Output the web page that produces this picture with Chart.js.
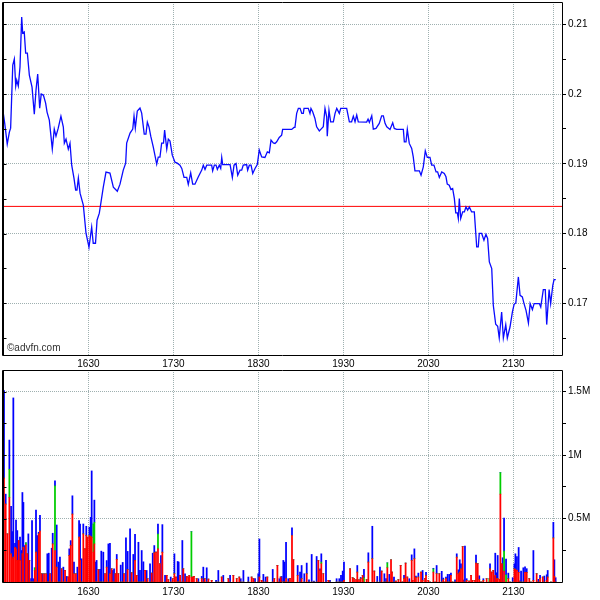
<!DOCTYPE html>
<html><head><meta charset="utf-8">
<script src="https://cdn.jsdelivr.net/npm/chart.js@4.4.0/dist/chart.umd.min.js"></script>
<style>
html,body{margin:0;padding:0;background:#fff;}
#wrap{position:relative;width:600px;height:600px;overflow:hidden;background:#fff;}
#top{position:absolute;left:0;top:0;}
#bot{position:absolute;left:0;top:368px;}
</style></head><body>
<div id="wrap">
<canvas id="top" width="600" height="370"></canvas>
<canvas id="bot" width="600" height="232"></canvas>
</div>
<script>
// ---- data (time = minutes since midnight) ----
const priceTimes = [929.7,930.9,932.7,934.2,935.1,936.6,937.7,938.7,939.4,940.5,941.7,942.9,943.6,944.7,945.7,946.9,948.3,950.2,951.8,953.0,954.2,955.6,956.7,958.2,959.8,960.8,962.4,964.5,965.9,967.1,968.7,970.6,972.3,973.0,974.2,975.8,977.0,978.2,979.8,981.0,981.9,982.9,984.1,986.4,988.3,990.4,992.3,993.4,995.0,996.1,997.7,1000.5,1002.4,1005.2,1007.6,1010.4,1012.3,1014.6,1016.3,1017.0,1019.4,1021.3,1022.2,1023.1,1024.5,1026.4,1027.6,1029.4,1030.6,1031.6,1032.8,1034.0,1035.8,1038.2,1039.3,1040.5,1041.7,1043.0,1043.8,1045.3,1046.4,1047.6,1049.2,1051.1,1052.7,1054.6,1055.9,1057.5,1059.4,1060.5,1062.2,1063.6,1065.2,1067.6,1070.0,1071.1,1072.3,1073.5,1077.0,1077.7,1078.9,1080.1,1081.0,1082.4,1083.4,1084.1,1084.8,1090.0,1091.6,1092.8,1094.2,1095.4,1097.0,1098.2,1099.3,1101.7,1102.4,1103.6,1104.8,1106.0,1107.6,1109.2,1109.9,1110.6,1112.3,1114.6,1116.3,1117.7,1118.9,1120.5,1121.7,1122.9,1124.7,1126.4,1127.1,1133.5,1135.1,1135.8,1137.0,1138.2,1139.4,1140.6,1141.7,1142.2,1145.2,1146.4,1147.1,1148.3,1149.9,1151.1,1153.0,1154.7,1155.8,1157.0,1158.2,1158.6,1159.8,1161.0,1162.9,1164.1,1165.3,1167.1,1168.1,1172.3,1174.2,1175.8,1177.0,1178.2,1179.4,1180.5,1186.4,1187.4,1188.3,1190.0,1191.1,1193.0,1195.3,1197.0,1198.2,1199.4,1200.6,1202.9,1204.8,1205.9,1207.6,1212.3,1213.0,1214.2,1215.1,1216.5,1218.2,1219.3,1220.5,1223.6,1224.8,1226.4,1227.8,1229.2,1231.1,1232.3,1233.9,1235.4,1236.5,1237.7,1239.4,1241.2,1242.4,1243.3,1244.7,1245.9,1247.1,1248.3,1249.3,1250.4,1251.1,1251.8,1252.8,1254.2,1255.4,1256.5,1257.7,1258.9,1260.5,1262.4,1264.1,1265.2,1265.9,1267.6,1269.2,1270.6,1271.8,1273.0,1274.7,1275.8,1277.5,1278.9,1280.0,1281.7,1282.9,1284.6,1285.7,1287.6,1289.3,1290.5,1291.7,1293.5,1294.7,1296.3,1297.5,1298.9,1300.6,1301.8,1303.4,1304.6,1308.3,1309.3,1311.1,1312.5,1313.5,1315.2,1316.3,1317.8,1318.7,1319.9];
const priceValues = [0.19756,0.19584,0.19283,0.19455,0.19512,0.20416,0.20502,0.20115,0.20201,0.20115,0.20387,0.21105,0.20875,0.20890,0.20588,0.20588,0.20273,0.20100,0.19713,0.20057,0.20287,0.19799,0.20000,0.19986,0.19871,0.19742,0.19627,0.19211,0.19498,0.19397,0.19512,0.19684,0.19527,0.19297,0.19354,0.19211,0.19297,0.18981,0.18795,0.18623,0.18623,0.18795,0.18580,0.18408,0.18006,0.17805,0.18092,0.17862,0.17862,0.18192,0.18293,0.18666,0.18881,0.18867,0.18666,0.18608,0.18709,0.18910,0.19010,0.19297,0.19440,0.19498,0.19684,0.19512,0.19756,0.19799,0.19727,0.19426,0.19426,0.19598,0.19527,0.19397,0.19240,0.18996,0.19096,0.19096,0.19297,0.19297,0.19484,0.19211,0.19354,0.19326,0.19125,0.19024,0.19010,0.18981,0.18934,0.18805,0.18805,0.18704,0.18871,0.18709,0.18709,0.18814,0.18910,0.18981,0.18920,0.18981,0.18981,0.18900,0.18981,0.18981,0.18920,0.18981,0.18934,0.19092,0.18990,0.18990,0.18805,0.18981,0.19006,0.18838,0.18910,0.18910,0.18981,0.18990,0.18910,0.18981,0.18981,0.18862,0.18934,0.18990,0.19092,0.19197,0.19100,0.19092,0.19172,0.19158,0.19340,0.19301,0.19293,0.19316,0.19379,0.19412,0.19494,0.19494,0.19522,0.19522,0.19723,0.19795,0.19795,0.19723,0.19723,0.19795,0.19795,0.19723,0.19795,0.19746,0.19651,0.19531,0.19473,0.19508,0.19531,0.19795,0.19674,0.19397,0.19770,0.19603,0.19603,0.19723,0.19795,0.19723,0.19795,0.19795,0.19603,0.19603,0.19684,0.19603,0.19699,0.19603,0.19598,0.19641,0.19594,0.19689,0.19498,0.19508,0.19580,0.19689,0.19689,0.19580,0.19531,0.19494,0.19588,0.19508,0.19494,0.19494,0.19316,0.19316,0.19494,0.19293,0.19221,0.19100,0.18900,0.18900,0.18838,0.18957,0.19187,0.19092,0.19092,0.18981,0.18981,0.18885,0.18885,0.18805,0.18885,0.18862,0.18814,0.18709,0.18694,0.18633,0.18647,0.18504,0.18297,0.18297,0.18217,0.18504,0.18217,0.18311,0.18311,0.18383,0.18336,0.18383,0.18311,0.18311,0.17809,0.17809,0.18002,0.18002,0.17905,0.17990,0.17930,0.17594,0.17499,0.16973,0.16700,0.16672,0.16504,0.16877,0.16504,0.16696,0.16504,0.16661,0.16877,0.16987,0.17006,0.17379,0.17116,0.17092,0.16997,0.16901,0.16719,0.16997,0.16911,0.16997,0.16997,0.16948,0.17198,0.17198,0.16696,0.17198,0.16997,0.17260,0.17341,0.17341];
const prevClose = 0.1839;

const volTimes = [930.4,931.6,932.8,934.2,935.4,936.1,937.0,938.2,938.9,939.8,940.8,941.7,942.9,943.4,944.1,945.2,945.9,946.9,947.6,948.3,949.5,950.2,951.1,952.1,953.0,954.0,954.9,955.8,957.0,957.7,958.7,960.1,961.0,962.0,962.9,964.1,964.8,966.4,967.6,968.8,969.9,971.1,972.3,973.5,974.7,975.8,976.5,977.5,978.7,979.8,981.2,982.2,983.4,984.1,985.2,986.4,987.6,988.5,989.5,990.7,991.6,992.3,993.5,994.2,995.1,995.8,997.0,998.2,999.1,1000.5,1001.7,1002.9,1004.1,1005.2,1006.4,1007.1,1008.1,1009.0,1010.0,1011.1,1012.8,1014.2,1015.1,1016.5,1017.7,1019.4,1020.5,1021.7,1022.9,1024.1,1025.3,1026.4,1027.6,1028.8,1030.0,1031.1,1031.8,1033.5,1034.7,1035.4,1036.5,1037.7,1039.1,1040.5,1041.2,1042.2,1044.1,1045.3,1046.4,1048.1,1049.5,1050.7,1051.8,1053.0,1053.7,1054.7,1056.3,1057.0,1058.2,1059.4,1060.5,1061.2,1062.7,1063.6,1064.5,1066.4,1067.6,1070.0,1071.1,1072.1,1073.5,1074.7,1077.0,1080.1,1081.7,1084.1,1085.2,1088.8,1090.0,1092.3,1094.7,1096.5,1097.5,1099.4,1102.9,1105.2,1106.4,1107.6,1109.9,1110.7,1112.3,1113.5,1115.1,1116.3,1120.1,1121.2,1123.4,1124.8,1125.7,1126.4,1127.6,1128.3,1129.5,1131.1,1132.3,1133.7,1134.7,1137.7,1139.4,1140.5,1142.4,1144.1,1145.7,1147.6,1149.2,1151.1,1152.3,1153.5,1154.4,1155.8,1157.7,1159.4,1160.5,1165.2,1167.1,1168.3,1169.5,1170.4,1174.7,1176.5,1177.5,1178.9,1179.8,1181.0,1182.2,1183.6,1184.5,1186.4,1187.6,1190.4,1191.8,1193.9,1195.8,1197.0,1198.9,1200.1,1201.0,1202.4,1203.6,1204.3,1205.7,1207.1,1208.8,1210.4,1211.6,1212.8,1213.9,1215.1,1216.5,1218.2,1218.9,1220.1,1221.2,1222.9,1224.8,1225.9,1227.6,1228.3,1229.9,1231.1,1233.5,1234.7,1235.8,1237.7,1239.4,1240.5,1241.7,1242.4,1243.6,1244.8,1245.9,1247.1,1248.8,1250.0,1251.1,1252.1,1253.0,1254.2,1254.7,1255.8,1257.0,1258.7,1260.1,1261.2,1262.9,1263.6,1264.8,1265.9,1266.9,1267.8,1268.8,1271.1,1273.0,1273.5,1274.7,1275.8,1276.3,1277.2,1278.2,1278.9,1280.1,1280.8,1281.9,1282.4,1283.4,1284.8,1286.4,1287.6,1289.5,1290.7,1291.4,1292.5,1293.7,1294.7,1295.4,1297.0,1298.2,1299.4,1301.2,1302.4,1304.1,1306.4,1307.6,1308.8,1310.7,1311.8,1313.5,1314.2,1316.5,1318.2,1318.9,1319.8];
// volumes in thousands of shares
const volRed = [818,614,379,666,222,183,196,274,261,170,327,170,0,222,274,0,293,222,0,170,0,0,0,91,235,0,379,402,65,0,65,65,0,0,65,0,300,248,117,0,0,104,0,91,0,39,209,287,535,65,65,0,353,170,0,379,261,366,353,366,358,353,235,300,0,0,97,0,0,0,65,117,0,65,104,0,0,65,178,65,0,0,65,0,97,0,73,0,170,52,0,0,0,0,91,0,26,0,70,0,230,235,261,144,0,235,0,52,18,0,26,65,39,0,0,52,0,104,0,44,39,52,39,39,44,26,0,26,0,26,0,23,13,0,0,39,0,26,0,52,26,39,0,0,0,39,26,0,0,39,13,0,0,39,0,26,131,0,39,0,0,0,26,0,26,366,175,52,0,26,0,65,0,0,0,0,170,91,144,65,0,13,0,0,0,0,0,13,104,34,26,18,78,18,26,52,0,18,157,183,86,0,0,86,0,0,112,0,175,78,0,8,18,131,0,26,149,39,0,170,13,183,34,39,78,13,26,50,13,0,78,0,65,65,0,18,0,26,0,0,52,0,0,196,65,78,104,279,0,0,13,8,52,13,13,149,144,18,0,0,13,26,0,104,78,91,0,52,26,26,20,692,144,0,86,0,26,0,0,104,99,91,76,0,0,0,76,76,26,0,13,65,0,26,39,0,13,39,0,347,44,0];
const volGreen = [0,0,0,222,0,0,0,0,0,0,0,0,0,0,0,0,15,0,0,0,0,0,0,20,0,0,0,0,0,0,0,0,0,0,0,0,0,509,0,0,0,0,0,0,0,0,0,0,0,0,0,0,0,0,0,0,0,0,0,0,0,0,222,170,0,0,0,0,0,0,0,0,0,0,0,0,0,0,0,0,0,0,0,0,0,0,0,0,0,0,0,0,0,0,0,0,0,0,0,0,0,0,117,0,0,0,0,0,0,0,0,0,0,0,0,0,0,0,0,0,0,0,358,0,0,0,0,0,0,0,0,0,0,0,0,0,0,0,0,0,0,0,0,0,0,0,0,0,0,0,0,0,0,0,0,0,0,0,0,0,0,0,0,0,0,0,0,0,0,0,0,0,0,0,0,0,0,0,13,0,0,0,0,0,0,0,0,0,0,0,0,0,0,0,0,0,34,0,0,0,0,0,0,0,0,0,39,0,0,0,0,0,0,0,0,0,0,0,0,0,0,0,0,0,0,0,0,0,0,0,25,0,0,0,0,0,0,0,0,0,0,0,0,0,0,0,0,0,0,0,0,0,0,0,0,0,0,0,0,0,0,0,26,0,0,0,0,0,0,0,0,170,0,0,157,57,0,0,0,0,0,0,0,0,0,0,0,0,0,0,0,0,0,0,0,0,0,0,0,0,0,0,0,0,0,0,0];
const volBlue = [690,78,0,230,374,214,1254,31,227,235,0,183,248,483,353,287,0,0,379,0,26,483,26,0,332,366,13,123,0,65,0,0,222,227,0,266,84,39,332,157,196,0,117,0,44,0,52,39,144,91,0,117,131,287,183,78,0,73,0,65,151,522,0,175,157,170,0,99,243,235,0,52,300,240,0,91,104,0,39,0,133,154,0,347,144,418,0,217,206,0,313,91,248,159,0,91,0,143,0,227,57,0,78,0,209,217,52,0,0,39,0,157,0,162,157,0,327,0,65,0,0,0,0,0,0,0,26,18,117,0,112,0,0,13,91,0,52,0,52,0,0,0,26,91,39,0,0,26,65,300,0,60,39,0,99,0,0,26,0,44,170,157,287,26,0,60,0,78,78,104,65,84,18,217,8,201,0,13,65,0,170,0,13,26,26,52,86,144,0,0,0,0,52,0,10,0,65,0,73,256,0,44,117,0,65,26,0,60,0,0,39,0,0,0,0,26,0,0,26,44,0,78,13,31,0,78,0,26,0,0,5,0,65,0,84,13,0,13,60,60,18,0,18,26,31,97,39,0,16,282,13,0,0,0,0,63,0,31,0,0,13,0,0,39,0,0,47,175,47,183,0,0,0,191,261,123,44,0,34,39,123,110,196,10,86,112,44,29,0,0,235,0,21,26,0,47,44,52,0,123,131,34,8];

const timeMin = 929, timeMax = 1324.3;
const timeTicks = [990,1050,1110,1170,1230,1290];
const timeTickLabels = ['1630','1730','1830','1930','2030','2130'];
const markerTime = 1318.5;
const priceMin = 0.1626, priceMax = 0.2132;
const priceMajor = [0.17,0.18,0.19,0.2,0.21];
const priceMajorLabels = ['0.17','0.18','0.19','0.2','0.21'];
const priceMinor = [0.165,0.175,0.185,0.195,0.205];
const volMax = 1670000;
const volMajor = [500000,1000000,1500000];
const volMajorLabels = ['0.5M','1M','1.5M'];
const volMinor = [250000,750000,1250000];
const copyrightText = '\u00A9advfn.com';

// ---- styling ----
const FONT = {family:'"Liberation Sans", Arial, sans-serif', size:10};
const GRID = '#9fb0b0';

function buildTicks(major, minor){
  return major.map(v=>({value:v, major:true})).concat(minor.map(v=>({value:v, major:false}))).sort((a,b)=>a.value-b.value);
}

function timeAxis(heightPx, pad){
  return {
    type:'linear', min:timeMin, max:timeMax, position:'bottom', offset:false, stacked:true,
    afterBuildTicks: s => { s.ticks = timeTicks.map(v=>({value:v})).concat([{value:markerTime}]); },
    afterFit: s => { s.height = heightPx; s.paddingLeft = 0; s.paddingRight = 0; },
    ticks:{autoSkip:false, maxRotation:0, minRotation:0, padding:pad, color:'#000', font:FONT,
      callback:(v,i)=> i < timeTickLabels.length ? timeTickLabels[i] : ''},
    grid:{color:GRID, lineWidth:1, drawTicks:false, offset:false},
    border:{display:false, dash:[1,1]}
  };
}

function valueAxis(min, max, major, minor, labels){
  return {
    type:'linear', min:min, max:max, position:'right', stacked:true,
    afterBuildTicks: s => { s.ticks = buildTicks(major, minor); },
    afterFit: s => { s.width = 38; s.paddingTop = 0; s.paddingBottom = 0; },
    ticks:{autoSkip:false, padding:2, color:'#000', font:FONT,
      callback:(v)=>{ const k = major.indexOf(v); return k >= 0 ? labels[k] : ''; }},
    grid:{color:c => (c.tick && c.tick.major) ? GRID : 'rgba(0,0,0,0)', lineWidth:1,
      drawTicks:true, tickLength:4, tickColor:'#000', tickWidth:1},
    border:{display:false, dash:[1,1]}
  };
}

const framePlugin = {
  id:'frame',
  afterDraw(chart, args, opts){
    const ctx = chart.ctx, a = chart.chartArea;
    const L = Math.round(a.left)+0.5, R = Math.round(a.right)+0.5, T = Math.round(a.top)+0.5, B = Math.round(a.bottom)+0.5;
    ctx.save();
    ctx.strokeStyle = '#000'; ctx.lineWidth = 1; ctx.setLineDash([]);
    ctx.beginPath();
    ctx.moveTo(L,T); ctx.lineTo(R,T); ctx.lineTo(R,B); ctx.lineTo(L,B); ctx.closePath();
    ctx.stroke();
    ctx.beginPath();
    ctx.moveTo(L+1,T); ctx.lineTo(L+1,B);
    ctx.stroke();
    // inward ticks on the left edge
    const ys = chart.scales.y;
    ys.ticks.forEach(t => {
      const y = Math.round(ys.getPixelForValue(t.value))+0.5;
      ctx.beginPath(); ctx.moveTo(L, y); ctx.lineTo(L+4, y); ctx.stroke();
    });
    if (opts && opts.text){
      ctx.fillStyle = '#333';
      ctx.font = '10px "Liberation Sans", Arial, sans-serif';
      ctx.textBaseline = 'alphabetic';
      ctx.fillText(opts.text, a.left+5, a.bottom-4);
    }
    ctx.restore();
  }
};

Chart.defaults.font.family = FONT.family;

new Chart(document.getElementById('top'), {
  type:'line',
  data:{datasets:[
    {data: priceTimes.map((t,i)=>({x:t, y:priceValues[i]})), borderColor:'#0a0aff', borderWidth:1.3,
     pointRadius:0, tension:0, fill:false, order:1},
    {data: [{x:timeMin, y:prevClose},{x:timeMax, y:prevClose}], borderColor:'#ff0000', borderWidth:1,
     pointRadius:0, tension:0, fill:false, order:2}
  ]},
  options:{
    responsive:false, animation:false, devicePixelRatio:1,
    layout:{padding:{left:2, top:2, right:0, bottom:0}},
    plugins:{legend:{display:false}, tooltip:{enabled:false}, frame:{text:copyrightText}},
    scales:{
      x: Object.assign(timeAxis(15, 3), {stacked:false}),
      y: Object.assign(valueAxis(priceMin, priceMax, priceMajor, priceMinor, priceMajorLabels), {stacked:false})
    }
  },
  plugins:[framePlugin]
});

new Chart(document.getElementById('bot'), {
  type:'bar',
  data:{datasets:[
    {data: volTimes.map((t,i)=>({x:t, y:volRed[i]*1000})), backgroundColor:'#ff0000'},
    {data: volTimes.map((t,i)=>({x:t, y:volGreen[i]*1000})), backgroundColor:'#00cc00'},
    {data: volTimes.map((t,i)=>({x:t, y:volBlue[i]*1000})), backgroundColor:'#0000ff'}
  ]},
  options:{
    responsive:false, animation:false, devicePixelRatio:1,
    layout:{padding:{left:2, top:2, right:0, bottom:0}},
    datasets:{bar:{barThickness:1.1, borderWidth:0, grouped:false}},
    plugins:{legend:{display:false}, tooltip:{enabled:false}, frame:{}},
    scales:{
      x: timeAxis(18, 4),
      y: valueAxis(0, volMax, volMajor, volMinor, volMajorLabels)
    }
  },
  plugins:[framePlugin]
});
</script>
</body></html>
